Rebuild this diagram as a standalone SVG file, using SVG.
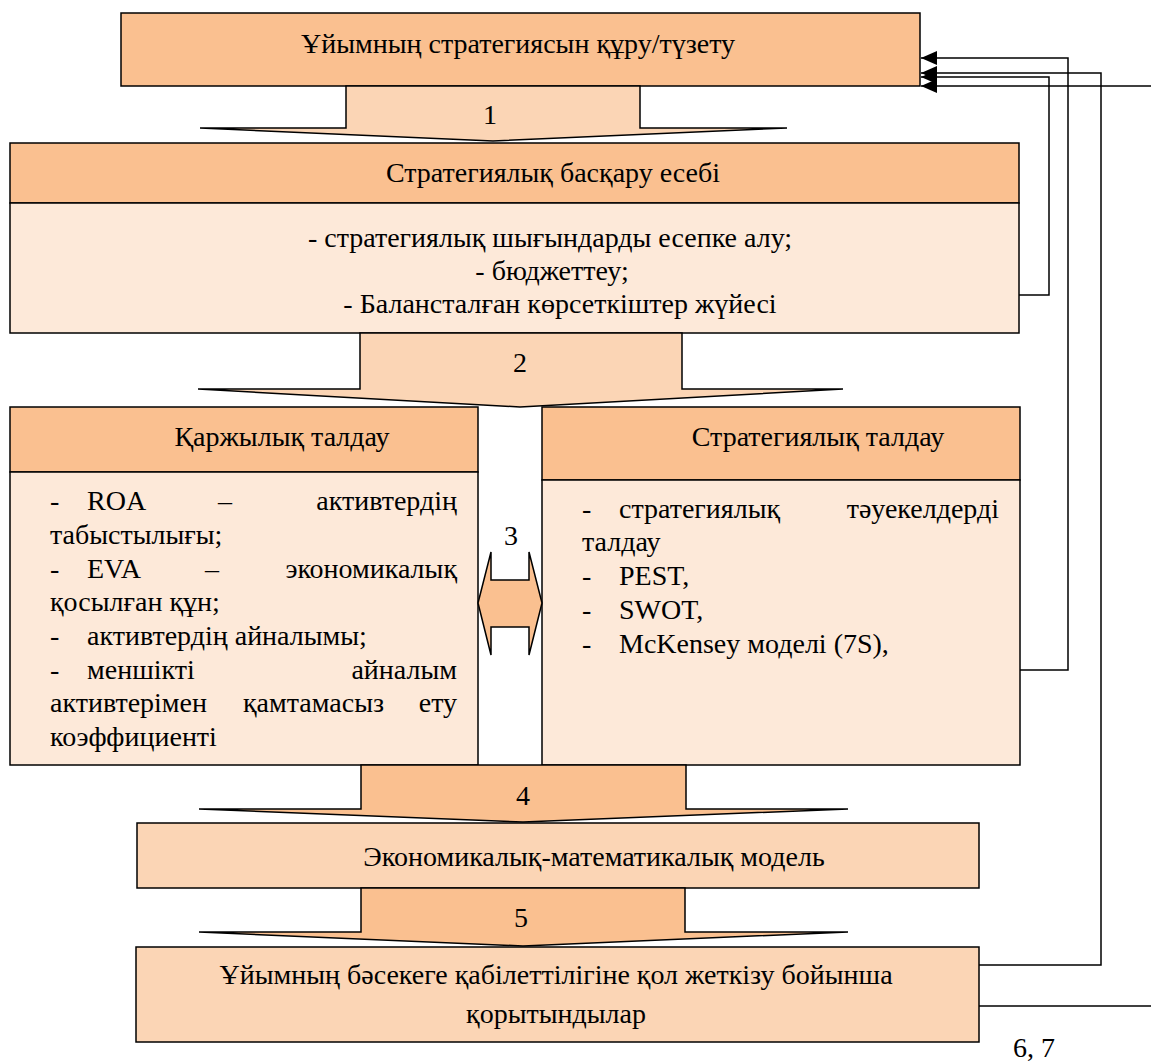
<svg xmlns="http://www.w3.org/2000/svg" width="1151" height="1061" viewBox="0 0 1151 1061">
<defs>
<style>
text{font-family:"Liberation Serif","DejaVu Serif",serif;font-size:28px;fill:#000}
.c{text-anchor:middle}
.e{text-anchor:end}
.dk{fill:#FAC090;stroke:#000;stroke-width:1.5}
.md{fill:#FBD5B5;stroke:#000;stroke-width:1.5}
.lt{fill:#FDE9D9;stroke:#000;stroke-width:1.5}
.ln{fill:none;stroke:#000;stroke-width:1.5}
.wg{fill:none;stroke:#000;stroke-width:2.5}
</style>
<marker id="ah" markerUnits="userSpaceOnUse" markerWidth="18" markerHeight="16" refX="16" refY="7" orient="auto">
<path d="M0,0 L16,7 L0,14 Z" fill="#000"/>
</marker>
</defs>
<rect width="1151" height="1061" fill="#fff"/>

<g id="n-top">
<rect class="dk" x="121" y="13" width="799" height="73"/>
<text class="c" x="518" y="53">Ұйымның стратегиясын құру/түзету</text>
</g>

<g id="a1">
<polygon class="md" points="346,86 640,86 640,128 787,128 493,141 200,128 346,128"/>
<text class="c" x="490" y="124">1</text>
</g>

<g id="n-sba">
<rect class="dk" x="10" y="143" width="1009" height="60"/>
<rect class="lt" x="10" y="203" width="1009" height="130"/>
<text class="c" x="553" y="182">Стратегиялық басқару есебі</text>
<text class="c" x="550" y="247">- стратегиялық шығындарды есепке алу;</text>
<text class="c" x="552" y="280">- бюджеттеу;</text>
<text class="c" x="560" y="313">- Балансталған көрсеткіштер жүйесі</text>
</g>

<g id="a2">
<polygon class="md" points="360,333 682,333 682,389 843,389 520,407 198,389 360,389"/>
<text class="c" x="520" y="372">2</text>
</g>

<g id="n-fin">
<rect class="dk" x="10" y="407" width="468" height="65"/>
<rect class="lt" x="10" y="472" width="468" height="293"/>
<text class="c" x="282" y="446">Қаржылық талдау</text>
<text x="50" y="510">-</text><text x="87" y="510">ROA</text><text x="218" y="510">–</text><text class="e" x="457" y="510">активтердің</text>
<text x="50" y="544">табыстылығы;</text>
<text x="50" y="578">-</text><text x="87" y="578">EVA</text><text x="205" y="578">–</text><text class="e" x="457" y="578">экономикалық</text>
<text x="50" y="611">қосылған құн;</text>
<text x="50" y="645">-</text><text x="87" y="645">активтердің айналымы;</text>
<text x="50" y="679">-</text><text x="87" y="679">меншікті</text><text class="e" x="457" y="679">айналым</text>
<text x="50" y="712">активтерімен</text><text x="243" y="712">қамтамасыз</text><text class="e" x="457" y="712">ету</text>
<text x="50" y="746">коэффициенті</text>
</g>

<g id="n-str">
<rect class="dk" x="542" y="407" width="478" height="73"/>
<rect class="lt" x="542" y="480" width="478" height="285"/>
<text class="c" x="818" y="446">Стратегиялық талдау</text>
<text x="582" y="518">-</text><text x="619" y="518">стратегиялық</text><text class="e" x="999" y="518">тәуекелдерді</text>
<text x="582" y="551">талдау</text>
<text x="582" y="585">-</text><text x="619" y="585">PEST,</text>
<text x="582" y="619">-</text><text x="619" y="619">SWOT,</text>
<text x="582" y="653">-</text><text x="619" y="653">McKensey моделі (7S),</text>
</g>

<g id="a3">
<polygon class="dk" points="478,603 491,552 491,580 529,580 529,552 542,603 529,655 529,627 491,627 491,655"/>
<text class="c" x="511" y="545">3</text>
</g>

<g id="a4">
<polygon class="dk" points="361,765 686,765 686,809 848,809 523,822 199,809 361,809"/>
<text class="c" x="523" y="805">4</text>
</g>

<g id="n-econ">
<rect class="md" x="137" y="823" width="842" height="65"/>
<text class="c" x="594" y="866">Экономикалық-математикалық модель</text>
</g>

<g id="a5">
<polygon class="dk" points="361,888 685,888 685,932 848,932 523,946 199,932 361,932"/>
<text class="c" x="521" y="927">5</text>
</g>

<g id="n-out">
<rect class="md" x="136" y="947" width="843" height="95"/>
<text class="c" x="556" y="984">Ұйымның бәсекеге қабілеттілігіне қол жеткізу бойынша</text>
<text class="c" x="556" y="1023">қорытындылар</text>
</g>

<g id="connectors">
<polyline class="ln" points="1019,295 1049,295 1049,77 921,77" marker-end="url(#ah)"/>
<polyline class="ln" points="1020,670 1068,670 1068,58 921,58" marker-end="url(#ah)"/>
<polyline class="ln" points="979,965 1101,965 1101,73 921,73" marker-end="url(#ah)"/>
<polyline class="ln" points="979,1006 1151,1006"/>
<polyline class="ln" points="1151,86 921,86" marker-end="url(#ah)"/>
</g>

<text x="1013" y="1057">6, 7</text>
</svg>
